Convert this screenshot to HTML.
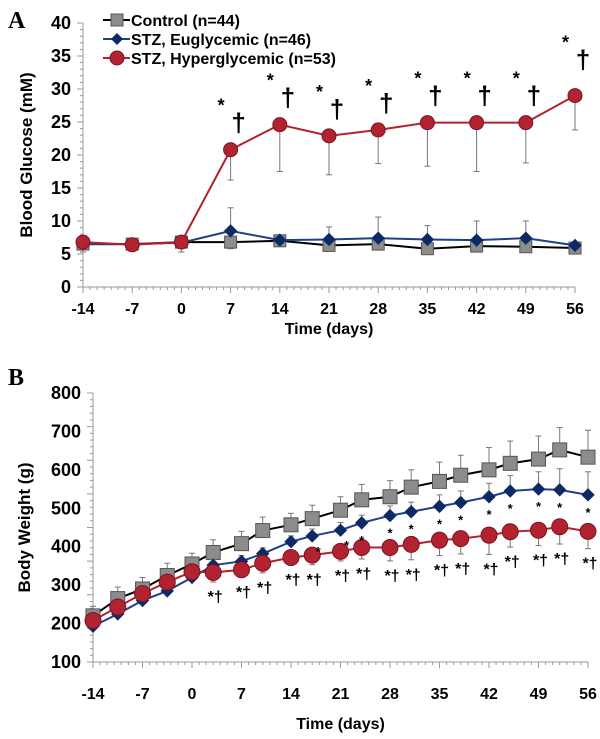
<!DOCTYPE html>
<html><head><meta charset="utf-8"><style>
body{margin:0;background:#fff;width:600px;height:739px;overflow:hidden}
svg{display:block}
text{font-family:"Liberation Sans",Arial,sans-serif;font-weight:bold;fill:#000}
</style></head><body>
<svg id="chart" width="600" height="739"></svg>
<script>
// Panel A data
const daysA=[-14,-7,0,7,14,21,28,35,42,49,56];
const ctrlA=[6.5,6.5,6.8,6.8,7.0,6.3,6.5,5.8,6.2,6.1,5.9];
const ctrlAErr=[0.8,0.6,0.8,1.0,0.8,0.6,0.7,0.5,0.6,0.6,0.5];
const euA=[6.5,6.5,6.7,8.5,7.1,7.2,7.4,7.2,7.1,7.4,6.3];
const euAErr=[0.6,0.5,0.8,3.5,0.8,1.9,3.2,2.1,2.9,2.6,0.5];
const hyA=[6.8,6.4,6.8,20.8,24.6,22.9,23.8,24.9,24.9,24.9,29.0];
const hyAErr=[1.5,0.5,1.5,4.6,7.1,5.9,5.1,6.6,7.4,6.1,5.2];
const yTicksA=[0,5,10,15,20,25,30,35,40];
const xTicks=[-14,-7,0,7,14,21,28,35,42,49,56];
// Panel B data
const daysB=[-14,-10.5,-7,-3.5,0,3,7,10,14,17,21,24,28,31,35,38,42,45,49,52,56];
const ctrlB=[220,265,290,325,355,385,408,442,457,473,495,522,530,555,570,586,600,617,628,652,633];
const ctrlBErr=[25,30,30,32,28,33,32,35,30,35,35,40,42,45,50,52,58,58,60,58,70];
const euB=[193,225,260,285,320,352,362,382,413,428,443,462,481,491,505,515,530,545,550,548,535];
const euBErr=[10,10,12,12,12,15,15,15,15,18,20,20,25,25,30,30,35,40,45,55,60];
const hyB=[208,243,278,308,335,333,340,357,372,378,388,398,398,406,417,421,430,439,443,452,440];
const hyBErr=[20,20,20,20,15,25,20,25,20,25,25,30,35,40,40,40,50,40,40,45,45];
const yTicksB=[100,200,300,400,500,600,700,800];

const NS="http://www.w3.org/2000/svg";
const svg=document.getElementById('chart');
function mk(tag,attrs,parent,txt){const e=document.createElementNS(NS,tag);for(const k in attrs)e.setAttribute(k,attrs[k]);if(txt!==undefined)e.textContent=txt;(parent||svg).appendChild(e);return e;}

function panel(cfg){
  const g=mk('g',{});
  
  
  const xs=d=>cfg.x0+(d+14)/70*(cfg.x1-cfg.x0);
  const ys=v=>cfg.y0-(v-cfg.ymin)/(cfg.ymax-cfg.ymin)*(cfg.y0-cfg.y1);
  const ax=mk('line',{x1:cfg.x0,y1:cfg.y1,x2:cfg.x0,y2:cfg.y0,stroke:'#999','stroke-width':1},g);
  
  const axx=mk('line',{x1:cfg.x0,y1:cfg.y0,x2:cfg.x1,y2:cfg.y0,stroke:'#999','stroke-width':1},g);
  
  for(let d=-14;d<=56;d++){mk('line',{x1:xs(d),y1:cfg.y0,x2:xs(d),y2:cfg.y0+(d%7===0?6:3),stroke:'#999'},g);}
  const ystep=(cfg.ymax-cfg.ymin)/40;
  for(let i=0;i<=40;i++){const v=cfg.ymin+i*ystep;mk('line',{x1:cfg.x0-(i%5===0?6:3),y1:ys(v),x2:cfg.x0,y2:ys(v),stroke:'#999'},g);}
  cfg.yTicks.forEach(v=>{const t=mk('text',{x:cfg.x0-12,y:ys(v)+6,'text-anchor':'end','font-size':18},g,String(v));
    });
  xTicks.forEach(v=>{const t=mk('text',{x:xs(v),y:cfg.y0+cfg.xlOff,'text-anchor':'middle','font-size':16},g,String(v));
    });
  const xt=mk('text',{x:(cfg.x0+cfg.x1)/2,y:cfg.y0+cfg.xtOff,'text-anchor':'middle','font-size':16},g,'Time (days)');
  
  const cy=(cfg.y0+cfg.y1)/2;
  const yt=mk('text',{x:cfg.ytx,y:cy,'text-anchor':'middle','font-size':17,'font-weight':'normal',transform:`rotate(-90 ${cfg.ytx} ${cy})`},g,cfg.ytitle);
  
  const pl=mk('text',{x:cfg.lx,y:cfg.ly,'font-size':24,style:'font-family:"Liberation Serif",serif'},g,cfg.label);
  
  cfg.series.forEach(s=>{
    const sg=mk('g',{},g);
    
    
    s.vals.forEach((v,i)=>{const x=xs(cfg.days[i]),y=ys(v),e=ys(v+s.dir*s.err[i]);
      mk('line',{x1:x,y1:y,x2:x,y2:e,stroke:'#777','stroke-width':1},sg);
      mk('line',{x1:x-3,y1:e,x2:x+3,y2:e,stroke:'#777','stroke-width':1},sg);});
    const pts=s.vals.map((v,i)=>xs(cfg.days[i])+','+ys(v)).join(' ');
    const ln=mk('polyline',{points:pts,fill:'none',stroke:s.color,'stroke-width':2},sg);
    
    s.vals.forEach((v,i)=>{const x=xs(cfg.days[i]),y=ys(v);let m;const r=s.size;
      if(s.shape==='sq')m=mk('rect',{x:x-r,y:y-r,width:2*r,height:2*r,fill:'#8c8c8c',stroke:'#555','stroke-width':1},sg);
      else if(s.shape==='di')m=mk('polygon',{points:`${x},${y-r} ${x+r},${y} ${x},${y+r} ${x-r},${y}`,fill:'#0d2a66',stroke:'#0d2a66'},sg);
      else m=mk('circle',{cx:x,cy:y,r:r,fill:'#b22230',stroke:'#7a1520','stroke-width':1},sg);
      });
  });
  return {xs,ys,g};
}

const A=panel({name:'panel-a-blood-glucose',x0:83,x1:575,y0:287,y1:23,ymin:0,ymax:40,yTicks:yTicksA,days:daysA,
  ytitle:'Blood Glucose (mM)',ytx:32,label:'A',lx:8,ly:28,xlOff:27,xtOff:47,
  series:[
   {name:'control-series',vals:ctrlA,err:ctrlAErr,dir:-1,color:'#000',shape:'sq',size:6},
   {name:'stz-euglycemic-series',vals:euA,err:euAErr,dir:1,color:'#1f3f8a',shape:'di',size:6},
   {name:'stz-hyperglycemic-series',vals:hyA,err:hyAErr,dir:-1,color:'#b22230',shape:'ci',size:7}]});
hyA.forEach((v,i)=>{if(i<3)return;const x=A.xs(daysA[i]);const yb=i===10?A.ys(v)-27:A.ys(v)-18;
  const s=mk('text',{x:x-6,y:yb-20,'text-anchor':'end','font-size':18},A.g,'*');
  
  const d=mk('text',{x:x+8,y:yb,'text-anchor':'middle','font-size':26},A.g,'†');
  });
const leg=mk('g',{});
[['Control (n=44)','sq','#000'],['STZ, Euglycemic (n=46)','di','#1f3f8a'],['STZ, Hyperglycemic (n=53)','ci','#b22230']].forEach((e,i)=>{
  const y=20+i*19;const le=mk('g',{},leg);
  mk('line',{x1:103,y1:y,x2:130,y2:y,stroke:e[2],'stroke-width':2},le);
  if(e[1]==='sq')mk('rect',{x:111,y:y-6,width:12,height:12,fill:'#8c8c8c',stroke:'#555'},le);
  else if(e[1]==='di')mk('polygon',{points:`117,${y-6} 123,${y} 117,${y+6} 111,${y}`,fill:'#0d2a66'},le);
  else mk('circle',{cx:117,cy:y,r:7,fill:'#b22230',stroke:'#7a1520'},le);
  mk('text',{x:131,y:y+6,'font-size':16},le,e[0]);});

const B=panel({name:'panel-b-body-weight',x0:93,x1:588,y0:662,y1:393,ymin:100,ymax:800,yTicks:yTicksB,days:daysB,
  ytitle:'Body Weight (g)',ytx:30,label:'B',lx:8,ly:385,xlOff:37,xtOff:67,
  series:[
   {name:'control-series',vals:ctrlB,err:ctrlBErr,dir:1,color:'#000',shape:'sq',size:7},
   {name:'stz-euglycemic-series',vals:euB,err:euBErr,dir:1,color:'#1f3f8a',shape:'di',size:6},
   {name:'stz-hyperglycemic-series',vals:hyB,err:hyBErr,dir:-1,color:'#b22230',shape:'ci',size:8}]});
euB.forEach((v,i)=>{if(i<9)return;const s=mk('text',{x:B.xs(daysB[i])+(i<11?6:0),y:B.ys(v)+(i<11?20:22),'text-anchor':'middle','font-size':13},B.g,'*');
  });
hyB.forEach((v,i)=>{if(i<5)return;const s=mk('text',{x:B.xs(daysB[i])+2,y:B.ys(v-hyBErr[i])+20,'text-anchor':'middle','font-size':16},B.g,'*†');
  });
</script>
</body></html>
